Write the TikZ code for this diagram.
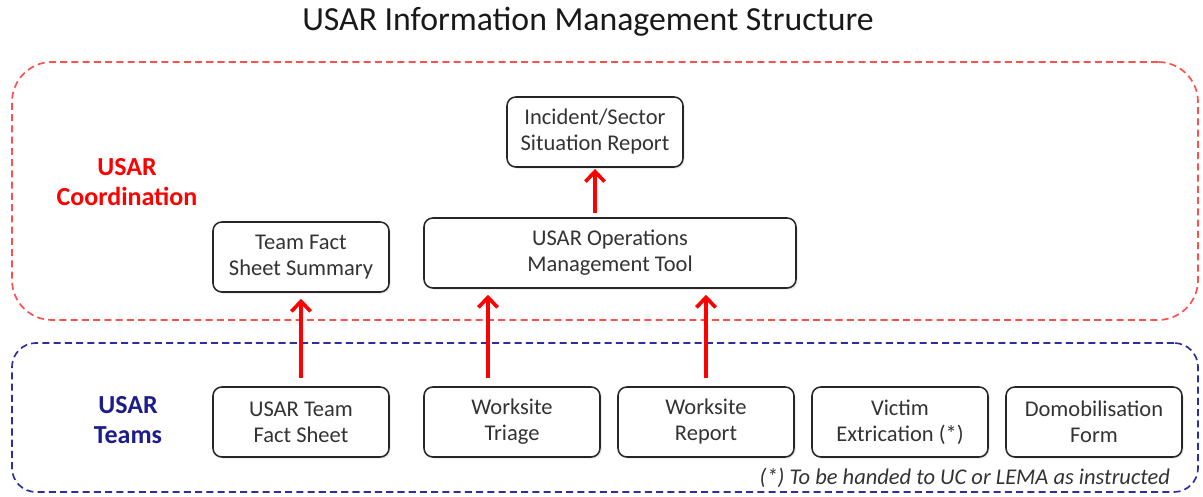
\documentclass[tikz,border=0pt]{standalone}
\usepackage{fontspec}
\setmainfont{Carlito}
\usepackage{tikz}
\usetikzlibrary{shapes,shadows,arrows.meta}
\definecolor{textgrey}{HTML}{333333}
\definecolor{coordred}{HTML}{FF0000}
\definecolor{zonered}{HTML}{FF5050}
\definecolor{teamblue}{HTML}{1C1C8C}
\definecolor{zoneblue}{HTML}{2E2EA0}
\tikzstyle{docbox} = [rectangle, rounded corners=0.22cm, minimum width=4.4cm, minimum height=1.75cm,
align=center, draw=black!85, line width=1.1pt, fill=white, text=textgrey, font=\fontsize{16}{18.5}\selectfont,
drop shadow={opacity=0.2, shadow xshift=0.04cm, shadow yshift=-0.04cm}]
\tikzstyle{zone} = [rectangle, dash pattern=on 5pt off 3pt, line width=1.2pt, minimum width=29.65cm]
\tikzstyle{zonelabel} = [align=center, font=\fontsize{18.5}{21.5}\selectfont\bfseries]
\tikzstyle{flowArrow} = [line width=2.6pt, coordred, -{Straight Barb[length=0.25cm, width=0.48cm]},
shorten <=0.2cm, shorten >=0.15cm]

\begin{document}
\begin{tikzpicture}[node distance=4.85cm]
		\useasboundingbox (0,0) rectangle (30.075,-12.425);
		%zones
		\node[zone, draw=zonered, rounded corners=1cm, minimum height=6.45cm](coordzone) at (15.125,-4.775){};
		\node[zone, draw=zoneblue, rounded corners=0.6cm, minimum height=3.725cm](teamzone) at (15.125,-10.4375){};
		\node[font=\fontsize{24}{28}\selectfont, text=black!90](title) at (14.7,-0.55){USAR Information Management Structure};
		\node[zonelabel, text=coordred](coordlabel) at (3.175,-4.55){USAR\\Coordination};
		\node[zonelabel, text=teamblue](teamlabel) at (3.2,-10.5){USAR\\Teams};
		
		%blocks
		\node[docbox](teamfact) at (7.525,-10.55){USAR Team\\Fact Sheet};
		\node[docbox, right of=teamfact, xshift=0.425cm](triage){Worksite\\Triage};
		\node[docbox, right of=triage](report){Worksite\\Report};
		\node[docbox, right of=report](victim){Victim\\Extrication (*)};
		\node[docbox, right of=victim](demob){Domobilisation\\Form};
		\node[docbox, above of=teamfact, yshift=-0.725cm](tfsummary){Team Fact\\Sheet Summary};
		\node[docbox, right of=tfsummary, xshift=2.875cm, yshift=0.1cm, minimum width=9.3cm](ops){USAR Operations\\Management Tool};
		\node[docbox, above of=ops, xshift=-0.375cm, yshift=-1.825cm](incident){Incident/Sector\\Situation Report};
		\node[anchor=east, font=\fontsize{16}{18}\selectfont\itshape, text=textgrey](footnote) at (29.375,-11.95){(*) To be handed to UC or LEMA as instructed};
		
		%arrows
		\draw[flowArrow](teamfact)--(tfsummary);
		\draw[flowArrow]([xshift=-0.6cm]triage.north)--([xshift=-0.6cm]triage.north |- ops.south);
		\draw[flowArrow](report.north)--(report.north |- ops.south);
		\draw[flowArrow, shorten <=0.1cm, shorten >=0.03cm](ops.north -| incident.south)--(incident.south);
	\end{tikzpicture}
\end{document}
